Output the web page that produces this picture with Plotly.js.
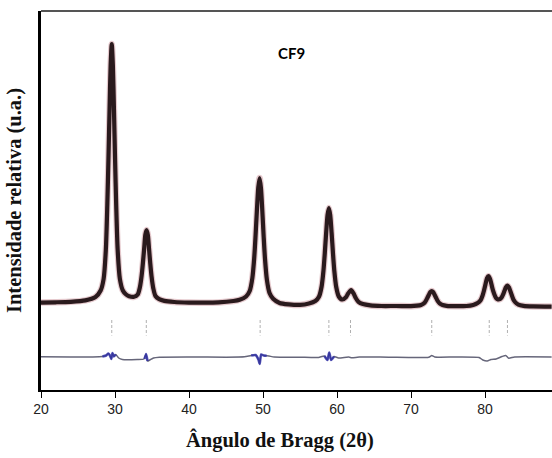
<!DOCTYPE html>
<html>
<head>
<meta charset="utf-8">
<script src="https://cdn.plot.ly/plotly-3.0.1.min.js"></script>
<style>html,body{margin:0;padding:0;background:#fff;}#chart{width:552px;height:458px;}</style>
</head>
<body>
<div id="chart"></div>
<script>
const obsX = [20, 22, 24, 26, 27.36, 28.06, 28.46, 28.76, 28.96, 29.11, 29.26, 29.41, 29.56, 29.71, 29.86, 30.01, 30.16, 30.36, 30.66, 31.06, 31.5, 31.9, 32.57, 33.07, 33.37, 33.6, 33.77, 33.94, 34.1, 34.27, 34.44, 34.6, 34.77, 34.94, 35.17, 35.47, 35.97, 36.67, 38, 40, 42, 44, 46, 46.84, 47.71, 48.2, 48.56, 48.81, 48.99, 49.17, 49.36, 49.54, 49.72, 49.91, 50.09, 50.27, 50.52, 50.88, 51.37, 52.24, 53.5, 55, 56.2, 57.07, 57.56, 57.92, 58.17, 58.35, 58.53, 58.72, 58.9, 59.08, 59.27, 59.45, 59.63, 59.88, 60.24, 60.73, 61.2, 61.5, 61.9, 62.25, 62.55, 62.9, 63.5, 64.5, 66, 68, 70, 70.8, 71.34, 71.73, 72.0, 72.2, 72.4, 72.6, 72.8, 73.0, 73.2, 73.4, 73.6, 73.87, 74.26, 74.8, 76, 77.5, 78.4, 79.0, 79.4, 79.67, 79.87, 80.07, 80.27, 80.47, 80.67, 80.87, 81.07, 81.27, 81.5, 81.75, 82.0, 82.23, 82.43, 82.63, 82.83, 83.03, 83.23, 83.43, 83.63, 83.83, 84.1, 84.5, 85.2, 86.5, 89];
const obsY = [874, 877, 882, 896, 930, 995, 1110, 1400, 1850, 2300, 2800, 3250, 3460, 3250, 2800, 2300, 1850, 1400, 1110, 995, 955, 938, 932, 955, 1030, 1145, 1270, 1415, 1555, 1600, 1550, 1410, 1262, 1135, 1018, 940, 909, 891, 880, 874, 873, 876, 890, 902, 935, 990, 1120, 1320, 1540, 1790, 2025, 2120, 2020, 1785, 1530, 1310, 1105, 970, 912, 870, 856, 851, 865, 890, 932, 1035, 1195, 1370, 1570, 1750, 1820, 1750, 1570, 1370, 1195, 1035, 935, 905, 927, 965, 998, 963, 918, 881, 859, 846, 840, 840, 838, 843, 850, 866, 892, 920, 950, 978, 990, 978, 950, 920, 892, 866, 850, 842, 838, 840, 851, 870, 898, 945, 997, 1060, 1118, 1138, 1112, 1057, 998, 955, 918, 906, 908, 925, 954, 992, 1028, 1043, 1026, 987, 945, 905, 876, 854, 842, 836, 834];

// Bragg reflection positions (2θ) and the band where their tick marks sit
const braggPos = [29.56, 34.23, 49.61, 58.9, 61.82, 72.8, 80.57, 83.03];
const braggTop = 700;
const braggBottom = 545;

const diffX = [20, 24, 27, 28.3, 28.8, 29.1, 29.35, 29.5, 29.65, 29.85, 30.1, 30.5, 31, 33, 33.9, 34.2, 34.4, 34.7, 35.2, 36, 40, 45, 47.5, 48.4, 49.0, 49.4, 49.55, 49.75, 50.1, 50.8, 51.5, 55, 57.5, 58.3, 58.7, 58.95, 59.2, 59.6, 60.2, 61.6, 62.0, 63, 67, 72.4, 72.8, 73.2, 76, 79.2, 79.7, 80.3, 80.8, 81.5, 82.3, 82.8, 83.2, 84, 89];
const diffY = [332, 330, 331, 335, 345, 365, 340, 310, 370, 335, 355, 320, 305, 305, 310, 360, 290, 300, 320, 328, 330, 328, 332, 345, 350, 300, 260, 355, 345, 340, 330, 328, 326, 340, 300, 375, 300, 335, 320, 330, 322, 330, 328, 328, 345, 330, 330, 325, 300, 290, 305, 310, 335, 345, 318, 330, 330];

// Blue-coloured stretches of the difference curve near the strongest peaks
const diffBlueX = [28.3, 28.8, 29.1, 29.35, 29.5, 29.65, 29.85, 30.1, null, 34.0, 34.2, 34.4, null, 48.4, 49.0, 49.4, 49.55, 49.75, 50.1, 50.5, null, 58.3, 58.7, 58.95, 59.2, 59.6];
const diffBlueY = [335, 345, 365, 340, 310, 370, 335, 355, null, 312, 360, 290, null, 345, 350, 300, 260, 355, 345, 342, null, 340, 300, 375, 300, 335];

const xTicks = [20, 30, 40, 50, 60, 70, 80];
const sampleLabel = 'CF9';
const xTitle = 'Ângulo de Bragg (2θ)';
const yTitle = 'Intensidade relativa (u.a.)';

// build the tick-mark trace for Bragg positions
const tickX = [], tickY = [];
braggPos.forEach(p => { tickX.push(p, p, null); tickY.push(braggTop, braggBottom, null); });

const traces = [
  {x: obsX, y: obsY, type: 'scatter', mode: 'lines', line: {color: 'rgba(150,40,55,0.25)', width: 6.5, shape: 'spline', smoothing: 0.7}, hoverinfo: 'skip', name: 'calc'},
  {x: obsX, y: obsY, type: 'scatter', mode: 'lines', line: {color: '#2a1a1d', width: 4.2, shape: 'spline', smoothing: 0.7}, name: 'obs'},
  {x: tickX, y: tickY, type: 'scatter', mode: 'lines', line: {color: '#b0b0b0', width: 1, dash: '3px,2px'}, name: 'Bragg'},
  {x: diffX, y: diffY, type: 'scatter', mode: 'lines', line: {color: '#66667a', width: 1.5, shape: 'spline', smoothing: 0.5}, name: 'diff'},
  {x: diffBlueX, y: diffBlueY, type: 'scatter', mode: 'lines', line: {color: 'rgba(40,40,170,0.75)', width: 2.6, shape: 'spline', smoothing: 0.5}, name: 'diff2', connectgaps: false}
];

const layout = {
  width: 552, height: 458,
  margin: {l: 41, r: 0, t: 11, b: 68},
  paper_bgcolor: '#fff', plot_bgcolor: '#fff',
  showlegend: false,
  xaxis: {
    range: [20, 89.05], tickvals: xTicks, ticktext: xTicks.map(String),
    ticks: 'outside', ticklen: 6, tickwidth: 1, tickcolor: '#000',
    showline: true, linecolor: '#000', linewidth: 1.5, showgrid: false, zeroline: false,
    tickfont: {family: 'Liberation Sans, Arial, sans-serif', size: 14, color: '#222'},
    title: {text: ''}
  },
  yaxis: {
    range: [0, 3790], showticklabels: false, ticks: '', showgrid: false, zeroline: false,
    showline: true, linecolor: '#000', linewidth: 3,
    title: {text: yTitle, standoff: 11, font: {family: 'Liberation Serif, Times New Roman, serif', size: 20.5, color: '#111', weight: 'bold'}}
  },
  shapes: [
    {type: 'line', xref: 'paper', yref: 'paper', x0: 0, x1: 1, y0: 1, y1: 1, line: {color: '#555', width: 2}}
  ],
  annotations: [
    {text: sampleLabel, xref: 'x', yref: 'paper', x: 53.9, y: 0.888, showarrow: false, xanchor: 'center', yanchor: 'middle',
     font: {family: 'Lato, Open Sans, sans-serif', size: 15, color: '#000', weight: 'bold'}},
    {text: xTitle, xref: 'paper', yref: 'paper', x: (280 - 41) / 511, y: -(440 - 390) / 379, showarrow: false, xanchor: 'center', yanchor: 'middle',
     font: {family: 'Liberation Serif, Times New Roman, serif', size: 20.5, color: '#111', weight: 'bold'}}
  ]
};

Plotly.newPlot('chart', traces, layout, {displayModeBar: false, staticPlot: true});
</script>
</body>
</html>
